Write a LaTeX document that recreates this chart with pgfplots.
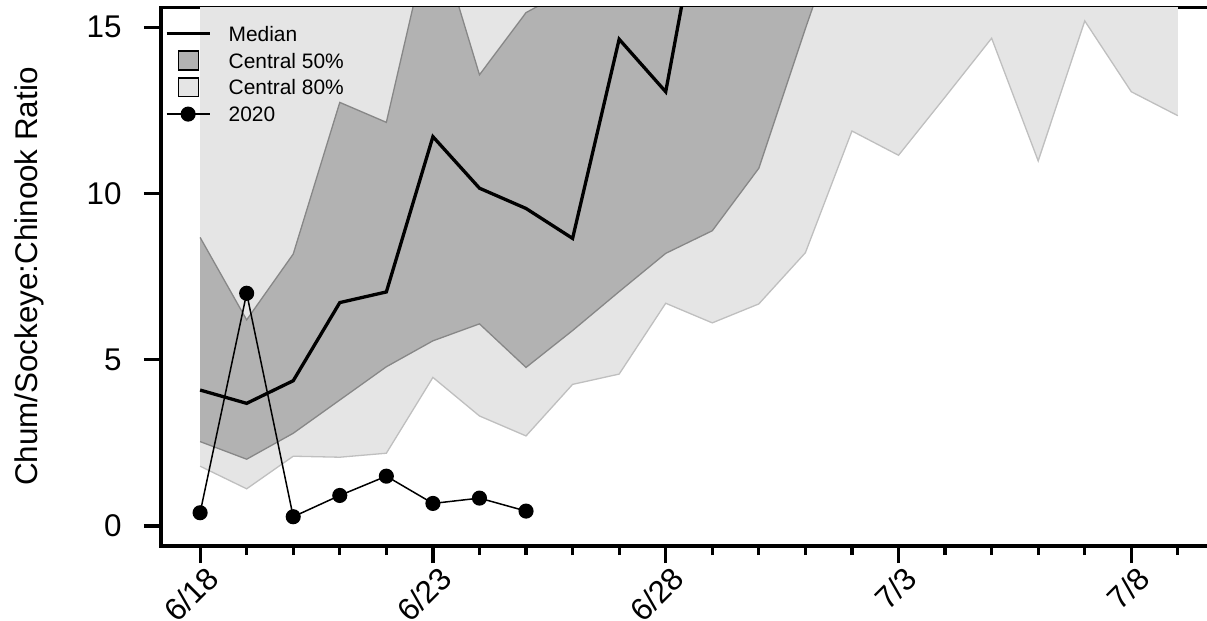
\documentclass[border=0pt]{standalone}
\usepackage{fontspec}
\setmainfont{Liberation Sans}
\usepackage{pgfplots}
\pgfplotsset{compat=1.18}
\definecolor{bandDark}{gray}{0.70}
\definecolor{bandLight}{gray}{0.898}
\definecolor{borderDark}{gray}{0.53}
\definecolor{borderLight}{gray}{0.75}
\begin{document}
\begin{tikzpicture}
\begin{axis}[
  name=ax, at={(0,0)}, anchor=south west,
  scale only axis, width=1056bp, height=538.7bp,
  xmin=-0.84, xmax=21.84, ymin=-0.6, ymax=15.6,
  axis x line*=box, axis y line*=left,
  axis line style={line width=3.2bp, black, line cap=rect},
  tick style={line width=3.2bp, black},
  tick align=outside, tick pos=left,
  major tick length=17bp, minor tick length=9bp,
  xtick={0,5,10,15,20}, xticklabels={6/18,6/23,6/28,7/3,7/8},
  minor xtick={0,1,...,21},
  ytick={0,5,10,15}, yticklabels={0,5,10,15},
  /pgf/number format/assume math mode=true,
  tick label style={font=\fontsize{31.5}{36}\selectfont, inner sep=0pt},
  yticklabel style={anchor=east, xshift=-22.3bp},
  xticklabel style={xshift=12.7bp, yshift=-9.7bp, rotate=45, anchor=east},
  ylabel={Chum/Sockeye:Chinook Ratio},
  ylabel style={at={(axis description cs:-0.11676,0.5)}, anchor=base, inner sep=0pt, font=\fontsize{31.5}{36}\selectfont},
  legend cell align=left,
  legend style={at={(rel axis cs:0,1)}, anchor=north west, xshift=4bp, yshift=-16.5bp,
    draw=none, fill=none, inner sep=0pt, outer sep=0pt, row sep=6.7bp, column sep=0pt,
    nodes={inner sep=0pt, text height=15bp, text depth=0bp, anchor=west, font=\fontsize{21}{24}\selectfont}},
]
\addlegendimage{legend image code/.code={\path[draw=none, fill=none] (0bp,-10bp) rectangle (62bp,10bp); \draw[black, line width=3.3bp] (0bp,0bp) -- (43bp,0bp);}}
\addlegendentry{Median}
\addlegendimage{legend image code/.code={\path[draw=none, fill=none] (0bp,-10bp) rectangle (62bp,10bp); \draw[fill=bandDark, draw=black, line width=1.3bp] (11.7bp,-9.4bp) rectangle (31.7bp,9.4bp);}}
\addlegendentry{Central 50\%}
\addlegendimage{legend image code/.code={\path[draw=none, fill=none] (0bp,-10bp) rectangle (62bp,10bp); \draw[fill=bandLight, draw=black, line width=1.3bp] (11.7bp,-9.4bp) rectangle (31.7bp,9.4bp);}}
\addlegendentry{Central 80\%}
\addlegendimage{legend image code/.code={\path[draw=none, fill=none] (0bp,-10bp) rectangle (62bp,10bp); \draw[black, line width=1.5bp, mark=*, mark size=6.8bp, mark repeat=2, mark phase=2] plot coordinates {(0bp,0bp) (21.5bp,0bp) (43bp,0bp)};}}
\addlegendentry{2020}

% Central 80% band
\addplot[fill=bandLight, draw=none, forget plot] coordinates {
(0,1.80) (1,1.12) (2,2.10) (3,2.07) (4,2.19) (5,4.47) (6,3.31) (7,2.71) (8,4.26) (9,4.57) (10,6.70)
(11,6.11) (12,6.68) (13,8.22) (14,11.88) (15,11.15) (16,12.9) (17,14.67) (18,10.98) (19,15.19) (20,13.06) (21,12.34)
(21,25) (0,25)};
\addplot[borderLight, line width=1.3bp, no markers, forget plot] coordinates {
(0,1.80) (1,1.12) (2,2.10) (3,2.07) (4,2.19) (5,4.47) (6,3.31) (7,2.71) (8,4.26) (9,4.57) (10,6.70)
(11,6.11) (12,6.68) (13,8.22) (14,11.88) (15,11.15) (16,12.9) (17,14.67) (18,10.98) (19,15.19) (20,13.06) (21,12.34)};

% Central 50% band
\addplot[fill=bandDark, draw=none, forget plot] coordinates {
(0,2.54) (1,2.01) (2,2.79) (3,3.79) (4,4.79) (5,5.57) (6,6.08) (7,4.77) (8,5.88) (9,7.05) (10,8.2)
(11,8.88) (12,10.76) (13,14.96) (14,19)
(14,25) (13,25) (12,25) (11,25) (10,25) (9,25) (8,16.2) (7,15.44) (6,13.57) (5,18.2) (4,12.14) (3,12.74) (2,8.18) (1,6.2) (0,8.68)};
\addplot[borderDark, line width=1.3bp, no markers, forget plot] coordinates {
(0,2.54) (1,2.01) (2,2.79) (3,3.79) (4,4.79) (5,5.57) (6,6.08) (7,4.77) (8,5.88) (9,7.05) (10,8.2)
(11,8.88) (12,10.76) (13,14.96) (14,19)};
\addplot[borderDark, line width=1.3bp, no markers, forget plot] coordinates {
(0,8.68) (1,6.2) (2,8.18) (3,12.74) (4,12.14) (5,18.2) (6,13.57) (7,15.44) (8,16.2) (9,25)};

% Median
\addplot[black, line width=3.3bp, no markers, forget plot] coordinates {
(0,4.09) (1,3.69) (2,4.37) (3,6.72) (4,7.04) (5,11.71) (6,10.16) (7,9.55) (8,8.65) (9,14.64) (10,13.06) (11,20.6) (12,25)};

% 2020
\addplot[black, line width=1.5bp, mark=*, mark size=6.8bp, mark options={solid, fill=black}, forget plot] coordinates {
(0,0.40) (1,7.0) (2,0.28) (3,0.92) (4,1.50) (5,0.68) (6,0.84) (7,0.45)};
\end{axis}
\pgfresetboundingbox
\path (ax.south west) ++(-161bp,-75bp) rectangle ++(1207bp,621bp);
\end{tikzpicture}
\end{document}
